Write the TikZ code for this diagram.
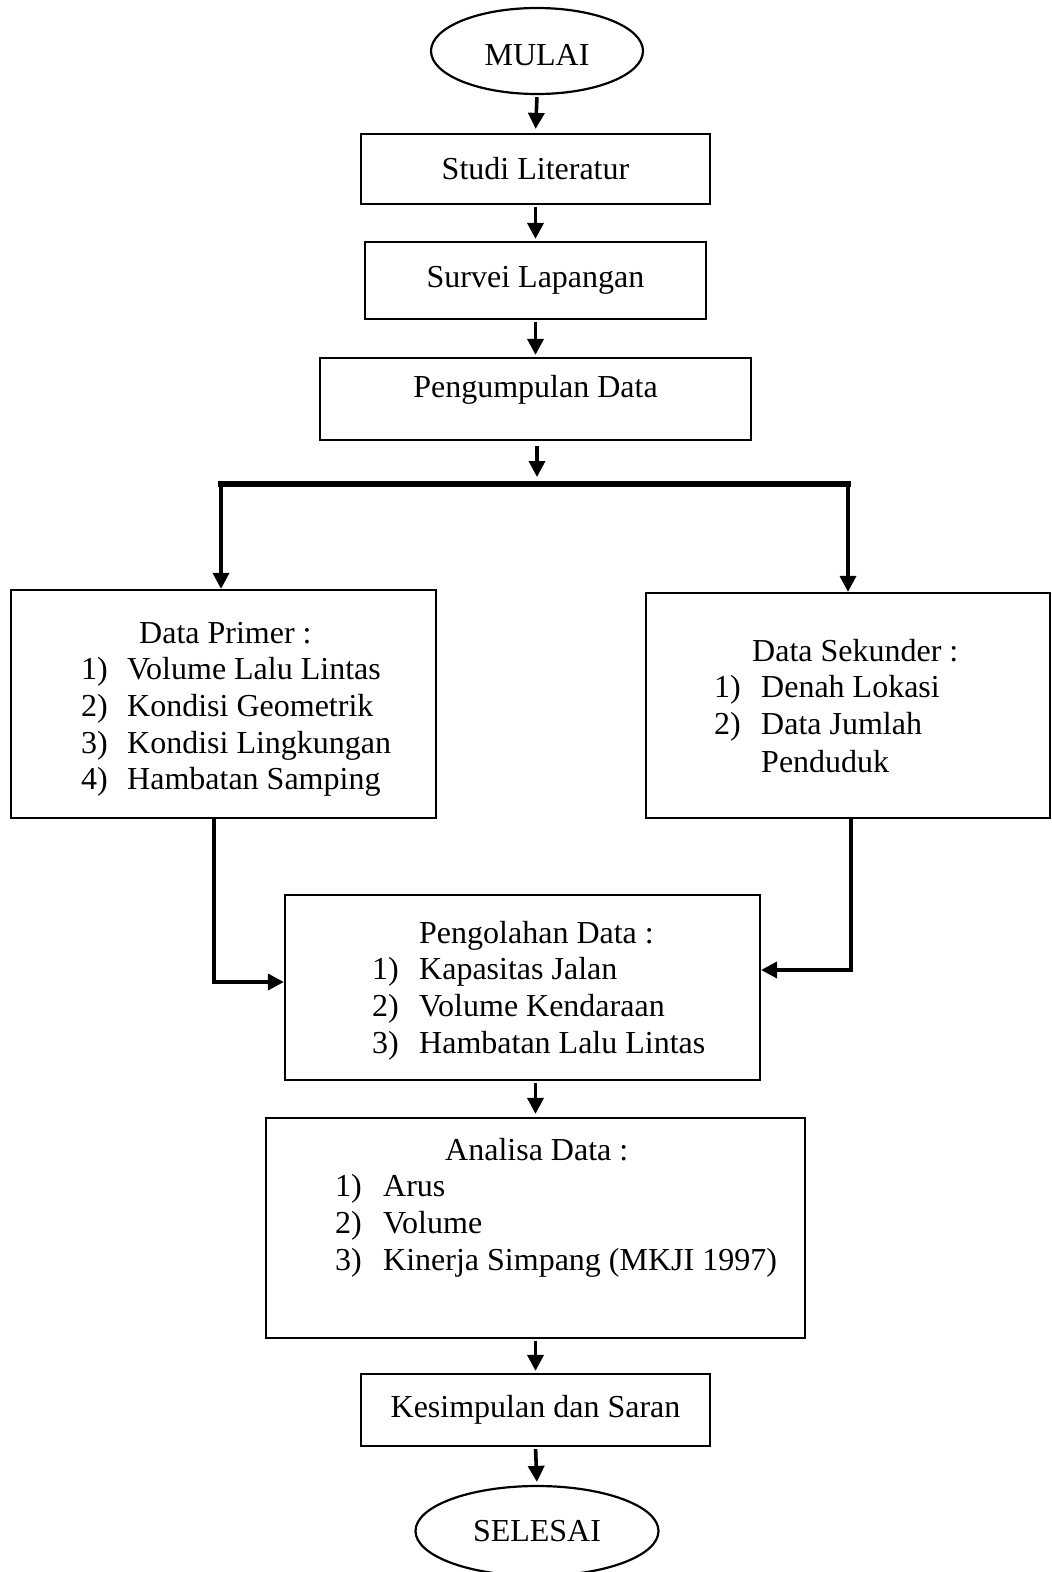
\documentclass[tikz,border=0pt]{standalone}
\usepackage{fontspec}
\setmainfont{Liberation Serif}
\usetikzlibrary{shapes.geometric,arrows.meta}
\begin{document}
\begin{tikzpicture}[x=1pt,y=-1pt,
  txt/.style={font=\fontsize{32}{37}\selectfont, inner sep=0pt},
  item/.style={txt, anchor=base west},
  box/.style={draw, line width=2.2pt, rectangle, inner sep=0pt, txt},
  oval/.style={draw, line width=2.2pt, ellipse, inner sep=0pt, txt},
  arr/.style={line width=3.6pt, -{Triangle[length=16pt,width=16pt]}}]
\useasboundingbox (0,0) rectangle (1052,1572);

% nodes
\node[oval, minimum width=212pt, minimum height=86pt, text height=29pt, text depth=0pt] (mulai) at (537,51) {MULAI};
\node[box, minimum width=349pt, minimum height=70pt] (studi) at (535.5,169) {Studi Literatur};
\node[box, minimum width=341pt, minimum height=77pt] (survei) at (535.5,280.5) {Survei Lapangan};
\node[box, minimum width=431pt, minimum height=82pt] (kumpul) at (535.5,399) {};
\node[txt] (kumpultxt) at (535.5,390) {Pengumpulan Data};

\node[box, minimum width=425pt, minimum height=228pt] (primer) at (223.5,704) {};
\node[item] (p0) at (139,643) {Data Primer :};
\node[item] (p1n) at (81,679) {1)}; \node[item] (p1) at (127,679) {Volume Lalu Lintas};
\node[item] (p2n) at (81,716) {2)}; \node[item] (p2) at (127,716) {Kondisi Geometrik};
\node[item] (p3n) at (81,753) {3)}; \node[item] (p3) at (127,753) {Kondisi Lingkungan};
\node[item] (p4n) at (81,789) {4)}; \node[item] (p4) at (127,789) {Hambatan Samping};

\node[box, minimum width=404pt, minimum height=225pt] (sekunder) at (848,705.5) {};
\node[item] (s0) at (752,661) {Data Sekunder :};
\node[item] (s1n) at (714,697) {1)}; \node[item] (s1) at (761,697) {Denah Lokasi};
\node[item] (s2n) at (714,734) {2)}; \node[item] (s2) at (761,734) {Data Jumlah};
\node[item] (s3) at (761,772) {Penduduk};

\node[box, minimum width=475pt, minimum height=185pt] (olah) at (522.5,987.5) {};
\node[item] (o0) at (419,943) {Pengolahan Data :};
\node[item] (o1n) at (372,979) {1)}; \node[item] (o1) at (419,979) {Kapasitas Jalan};
\node[item] (o2n) at (372,1016) {2)}; \node[item] (o2) at (419,1016) {Volume Kendaraan};
\node[item] (o3n) at (372,1053) {3)}; \node[item] (o3) at (419,1053) {Hambatan Lalu Lintas};

\node[box, minimum width=539pt, minimum height=220pt] (analisa) at (535.5,1228) {};
\node[item] (a0) at (445,1160) {Analisa Data :};
\node[item] (a1n) at (335,1196) {1)}; \node[item] (a1) at (383,1196) {Arus};
\node[item] (a2n) at (335,1233) {2)}; \node[item] (a2) at (383,1233) {Volume};
\node[item] (a3n) at (335,1270) {3)}; \node[item] (a3) at (383,1270) {Kinerja Simpang (MKJI 1997)};

\node[box, minimum width=349pt, minimum height=72pt] (simpul) at (535.5,1410) {Kesimpulan dan Saran};
\node[oval, minimum width=243pt, minimum height=90pt] (selesai) at (537,1531) {SELESAI};

% connectors
\draw[arr, shorten <=2pt, shorten >=4pt] (mulai.south) -- (studi.north);
\draw[arr, shorten <=2pt, shorten >=2pt] (studi.south) -- (survei.north);
\draw[arr, shorten <=2pt, shorten >=2pt] (survei.south) -- (survei.south |- kumpul.north);
\coordinate (split) at (537,484);
\coordinate (splitL) at (221,484);
\coordinate (splitR) at (848,484);
\coordinate (splitLe) at (218,484);
\coordinate (splitRe) at (851,484);
\draw[arr, shorten <=5pt, shorten >=7pt] (kumpul.south -| split) -- (split);
\draw[line width=6pt] (splitLe) -- (splitRe);
\draw[arr] (splitL) -- (splitL |- primer.north);
\draw[arr] (splitR) -- (splitR |- sekunder.north);
\coordinate (pl) at (214,982);
\coordinate (pr) at (851,970);
\draw[arr] (primer.south -| pl) -- (pl) -- (pl -| olah.west);
\draw[arr] (sekunder.south -| pr) -- (pr) -- (pr -| olah.east);
\draw[arr, shorten <=2pt, shorten >=3pt] (olah.south -| analisa.north) -- (analisa.north);
\draw[arr, shorten <=2pt, shorten >=2pt] (analisa.south) -- (simpul.north);
\draw[arr, shorten <=2pt, shorten >=3pt] (simpul.south) -- (selesai.north);
\end{tikzpicture}
\end{document}
